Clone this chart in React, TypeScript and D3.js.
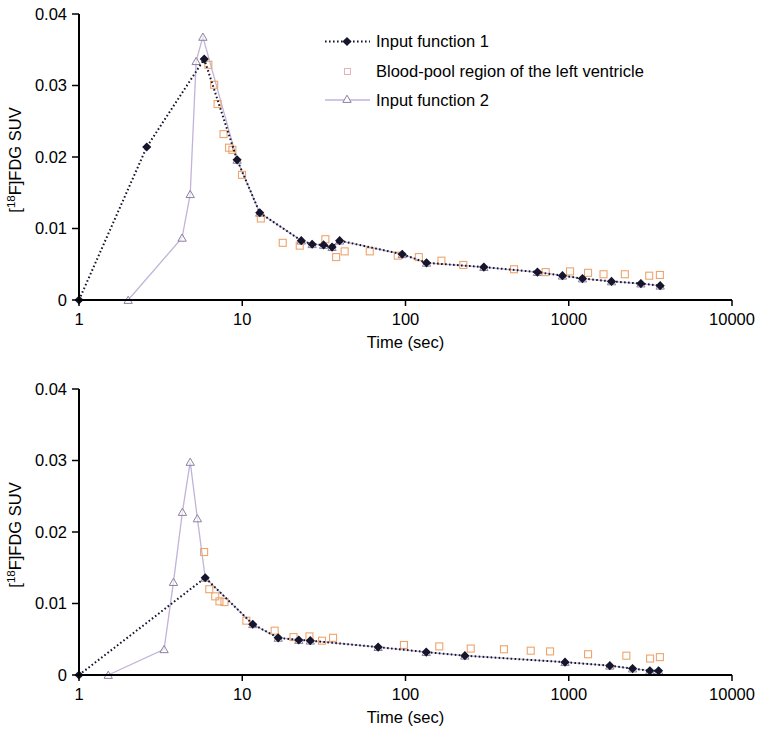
import React from "react";
import * as d3 from "d3";

// ---------- Data (time in sec, value in SUV) ----------
const xTicks = [1, 10, 100, 1000, 10000];
const yTicks = [0, 0.01, 0.02, 0.03, 0.04];
const yTickLabels = ["0", "0.01", "0.02", "0.03", "0.04"];
const legendLabels = ["Input function 1", "Blood-pool region of the left ventricle", "Input function 2"];

// Top panel
const topIF1Time = [1, 2.6, 5.85, 9.3, 12.8, 23.0, 26.8, 31.5, 35.5, 39.5, 95.5, 134.5, 302, 643, 915, 1213, 1828, 2766, 3631];
const topIF1Value = [0, 0.0214, 0.0337, 0.0196, 0.0122, 0.0083, 0.0078, 0.0077, 0.0074, 0.0083, 0.0064, 0.0052, 0.0046, 0.0039, 0.0034, 0.003, 0.0026, 0.0023, 0.002];
const topBloodTime = [6.2, 6.73, 7.06, 7.68, 8.3, 8.7, 9.97, 13.0, 17.7, 22.5, 32.3, 37.6, 42.4, 60.4, 89.7, 120.7, 166, 226, 462, 722, 1018, 1313, 1633, 2206, 3110, 3616];
const topBloodValue = [0.0329, 0.0301, 0.0274, 0.0232, 0.0213, 0.021, 0.0175, 0.0114, 0.008, 0.0076, 0.0085, 0.006, 0.0068, 0.0068, 0.0062, 0.006, 0.0055, 0.0049, 0.0043, 0.0039, 0.004, 0.0038, 0.0036, 0.0036, 0.0034, 0.0035];
const topIF2Time = [2, 4.28, 4.8, 5.22, 5.74, 9.3, 12.8, 23.0, 26.8, 31.5, 35.5, 39.5, 95.5, 134.5, 302, 643, 915, 1213, 1828, 2766, 3631];
const topIF2Value = [0, 0.0087, 0.0148, 0.0334, 0.0368, 0.0196, 0.0122, 0.0083, 0.0078, 0.0077, 0.0074, 0.0083, 0.0064, 0.0052, 0.0046, 0.0039, 0.0034, 0.003, 0.0026, 0.0023, 0.002];

// Bottom panel
const botIF1Time = [1, 5.93, 11.6, 16.6, 22.2, 26.1, 68, 134, 231, 949, 1785, 2460, 3140, 3550];
const botIF1Value = [0, 0.0136, 0.0071, 0.0052, 0.0049, 0.0048, 0.0039, 0.0032, 0.0027, 0.0018, 0.0013, 0.0009, 0.0006, 0.0006];
const botBloodTime = [5.84, 6.28, 6.83, 7.25, 7.78, 10.6, 15.8, 20.6, 25.8, 30.8, 36.0, 97.8, 161, 251, 401, 585, 768, 1313, 2253, 3150, 3616];
const botBloodValue = [0.0172, 0.012, 0.011, 0.0103, 0.0102, 0.0076, 0.0062, 0.0053, 0.0054, 0.0048, 0.0052, 0.0042, 0.004, 0.0037, 0.0036, 0.0034, 0.0033, 0.0029, 0.0027, 0.0023, 0.0025];
const botIF2Time = [1.51, 3.32, 3.79, 4.3, 4.8, 5.31, 5.93, 11.6, 16.6, 22.2, 26.1, 68, 134, 231, 949, 1785, 2460, 3140, 3550];
const botIF2Value = [0, 0.0036, 0.013, 0.0228, 0.0298, 0.0219, 0.0136, 0.0071, 0.0052, 0.0049, 0.0048, 0.0039, 0.0032, 0.0027, 0.0018, 0.0013, 0.0009, 0.0006, 0.0006];

const FONT = "'Liberation Sans', Arial, Helvetica, sans-serif";
const FS = 16.5;
const C_IF1 = "#15152b";
const C_BLOOD = "#eea46c";
const C_IF2_MARK = "#8f7f9f";
const C_IF2_LINE = "#c2b3da";

type Pt = [number, number];
const zip = (a: number[], b: number[]): Pt[] => a.map((v, i) => [v, b[i]]);

function Panel({ top, ifa, blood, ifb, legend }: { top: number; ifa: Pt[]; blood: Pt[]; ifb: Pt[]; legend: boolean }) {
  const left = 79, right = 732, h = 286;
  const x = d3.scaleLog().domain([1, 10000]).range([left, right]);
  const y = d3.scaleLinear().domain([0, 0.04]).range([top + h, top]);
  const line = d3.line<Pt>().x((d) => x(d[0])).y((d) => y(d[1]));
  const diamond = d3.symbol().type(d3.symbolSquare).size(42)();
  const tri = d3.symbol().type(d3.symbolTriangle).size(30)();
  const axisY = top + h;
  return (
    <g>
      {/* IF2 line + markers */}
      <path d={line(ifb) || ""} fill="none" stroke={C_IF2_LINE} strokeWidth={1.3} />
      {ifb.map((d, i) => (
        <path key={"t" + i} d={tri} transform={`translate(${x(d[0])},${y(d[1]) + 1})`} fill="white" fillOpacity={0.6} stroke={C_IF2_MARK} strokeWidth={1} />
      ))}
      {/* blood squares */}
      {blood.map((d, i) => (
        <rect key={"s" + i} x={x(d[0]) - 3.5} y={y(d[1]) - 3.5} width={7} height={7} fill="none" stroke={C_BLOOD} strokeWidth={1.1} />
      ))}
      {/* IF1 dotted line + diamonds */}
      <path d={line(ifa) || ""} fill="none" stroke={C_IF1} strokeWidth={2} strokeDasharray="1.6,2.4" />
      {ifa.map((d, i) => (
        <path key={"d" + i} d={diamond} transform={`translate(${x(d[0])},${y(d[1])}) rotate(45)`} fill={C_IF1} />
      ))}
      {/* axes */}
      <line x1={left} x2={left} y1={top} y2={axisY} stroke="black" strokeWidth={2} />
      <line x1={left} x2={right} y1={axisY} y2={axisY} stroke="black" strokeWidth={2} />
      {yTicks.map((t, i) => (
        <g key={"yt" + i}>
          <line x1={left - 7} x2={left} y1={y(t)} y2={y(t)} stroke="black" strokeWidth={1.5} />
          <text x={left - 12} y={y(t)} dy="0.35em" textAnchor="end" fontSize={FS} fontFamily={FONT}>{yTickLabels[i]}</text>
        </g>
      ))}
      {xTicks.map((t, i) => (
        <g key={"xt" + i}>
          <line x1={x(t)} x2={x(t)} y1={axisY} y2={axisY + 6} stroke="black" strokeWidth={1.5} />
          <text x={x(t)} y={axisY + 25} textAnchor="middle" fontSize={FS} fontFamily={FONT}>{String(t)}</text>
        </g>
      ))}
      <text x={(left + right) / 2} y={axisY + 48} textAnchor="middle" fontSize={FS} fontFamily={FONT}>Time (sec)</text>
      <text transform={`translate(21,${top + 146}) rotate(-90)`} textAnchor="middle" fontSize={FS} fontFamily={FONT}>
        [<tspan fontSize={11.5} dy={-6}>18</tspan><tspan dy={6}>F]FDG SUV</tspan>
      </text>
      {legend && (
        <g fontFamily={FONT} fontSize={FS}>
          <line x1={325} x2={370} y1={41.5} y2={41.5} stroke={C_IF1} strokeWidth={2} strokeDasharray="1.6,2.4" />
          <path d={diamond} transform="translate(347,41.5) rotate(45)" fill={C_IF1} />
          <text x={376} y={41.5} dy="0.35em">{legendLabels[0]}</text>
          <rect x={344.5} y={68.5} width={6} height={6} fill="none" stroke="#e8b0b8" strokeWidth={1} />
          <text x={376} y={71.5} dy="0.35em">{legendLabels[1]}</text>
          <line x1={325} x2={370} y1={100} y2={100} stroke={C_IF2_LINE} strokeWidth={1.3} />
          <path d={tri} transform="translate(347,100)" fill="white" stroke={C_IF2_MARK} strokeWidth={1} />
          <text x={376} y={100} dy="0.35em">{legendLabels[2]}</text>
        </g>
      )}
    </g>
  );
}

export default function App() {
  return (
    <svg width={762} height={733} style={{ position: "absolute", left: 0, top: 0, background: "white" }}>
      <rect width={762} height={733} fill="white" />
      <Panel top={14} ifa={zip(topIF1Time, topIF1Value)} blood={zip(topBloodTime, topBloodValue)} ifb={zip(topIF2Time, topIF2Value)} legend={true} />
      <Panel top={389} ifa={zip(botIF1Time, botIF1Value)} blood={zip(botBloodTime, botBloodValue)} ifb={zip(botIF2Time, botIF2Value)} legend={false} />
    </svg>
  );
}
